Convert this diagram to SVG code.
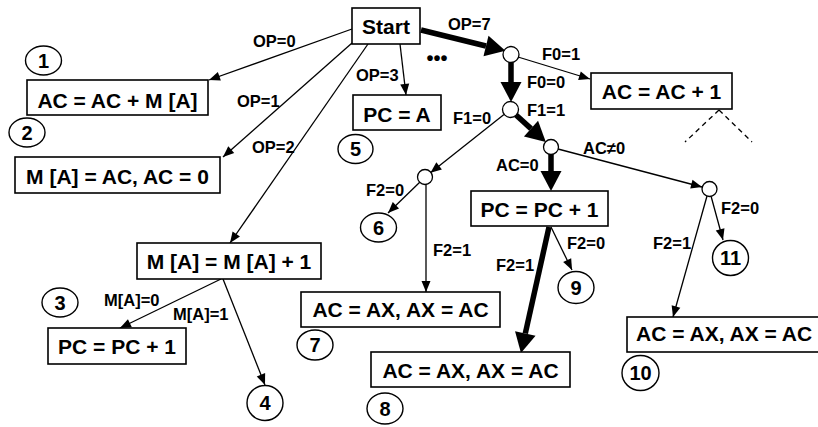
<svg xmlns="http://www.w3.org/2000/svg" width="818" height="427" viewBox="0 0 818 427">
  <defs>
    <style>
      .box { fill: #fff; stroke: #000; stroke-width: 1.6; }
      .num { fill: #fff; stroke: #000; stroke-width: 1.4; }
      .jn { fill: #fff; stroke: #000; stroke-width: 1.3; }
      .t { font-family: "Liberation Sans", Arial, sans-serif; font-weight: bold; font-size: 21px; fill: #000; text-anchor: middle; }
      .n { font-family: "Liberation Sans", Arial, sans-serif; font-weight: bold; font-size: 20px; fill: #000; text-anchor: middle; }
      .lb { font-family: "Liberation Sans", Arial, sans-serif; font-weight: bold; font-size: 16.5px; fill: #000; }
      .thin { fill: none; stroke: #000; stroke-width: 1.3; marker-end: url(#ah); }
      .thick { fill: none; stroke: #000; stroke-width: 5.5; marker-end: url(#ahb); }
      .dash { fill: none; stroke: #000; stroke-width: 1.3; stroke-dasharray: 5 4; }
    </style>
    <!-- small arrowhead, tip at the path end -->
    <marker id="ah" markerUnits="userSpaceOnUse" markerWidth="12" markerHeight="10" refX="11" refY="4.5" orient="auto" overflow="visible">
      <path d="M0,0 L11,4.5 L0,9 Z" fill="#000"/>
    </marker>
    <!-- large arrowhead, base at the path end -->
    <marker id="ahb" markerUnits="userSpaceOnUse" markerWidth="22" markerHeight="22" refX="0" refY="10.5" orient="auto" overflow="visible">
      <path d="M0,0 L20,10.5 L0,21 Z" fill="#000"/>
    </marker>
  </defs>
  <rect width="818" height="427" fill="#fff"/>

  <g id="connectors">
    <!-- from Start -->
    <line class="thin" x1="352" y1="29" x2="209" y2="80"/>
    <line class="thin" x1="352" y1="43" x2="223" y2="157"/>
    <line class="thin" x1="368" y1="44" x2="230" y2="243"/>
    <line class="thin" x1="400" y1="44" x2="406" y2="95"/>
    <line class="thick" x1="421" y1="30" x2="486" y2="46"/>
    <!-- decision chain -->
    <line class="thin" x1="518" y1="57" x2="590" y2="79"/>
    <line class="thick" x1="511" y1="62" x2="511" y2="82"/>
    <line class="thick" x1="516" y1="115" x2="531" y2="128.6"/>
    <line class="thin" x1="504" y1="114.5" x2="430.5" y2="172.7"/>
    <line class="thick" x1="551" y1="154" x2="551" y2="171"/>
    <line class="thin" x1="558" y1="149" x2="702" y2="187"/>
    <line class="thin" x1="420" y1="182" x2="388" y2="213"/>
    <line class="thin" x1="426" y1="184" x2="426" y2="292"/>
    <line class="thick" x1="549" y1="227" x2="525.3" y2="333.5"/>
    <line class="thin" x1="551" y1="227" x2="572" y2="270"/>
    <line class="thin" x1="711" y1="196" x2="723" y2="240"/>
    <line class="thin" x1="707" y1="196" x2="673" y2="317"/>
    <!-- from M [A] = M [A] + 1 -->
    <line class="thin" x1="221" y1="279" x2="120" y2="328"/>
    <line class="thin" x1="223" y1="279" x2="265" y2="385"/>
    <!-- continuation below AC = AC + 1 -->
    <line class="dash" x1="719" y1="110" x2="685" y2="142"/>
    <line class="dash" x1="719" y1="110" x2="752" y2="142"/>

    <text class="lb" x="253" y="47">OP=0</text>
    <text class="lb" x="237" y="107">OP=1</text>
    <text class="lb" x="252" y="153">OP=2</text>
    <text class="lb" x="356" y="81">OP=3</text>
    <text class="lb" x="448" y="30">OP=7</text>
    <text class="lb" x="542" y="60">F0=1</text>
    <text class="lb" x="527" y="88">F0=0</text>
    <text class="lb" x="527" y="116">F1=1</text>
    <text class="lb" x="453" y="124">F1=0</text>
    <text class="lb" x="496" y="171">AC=0</text>
    <text class="lb" x="583" y="154">AC≠0</text>
    <text class="lb" x="366" y="196">F2=0</text>
    <text class="lb" x="433" y="256">F2=1</text>
    <text class="lb" x="496" y="271">F2=1</text>
    <text class="lb" x="567" y="249">F2=0</text>
    <text class="lb" x="721" y="214">F2=0</text>
    <text class="lb" x="653" y="249">F2=1</text>
    <text class="lb" x="104" y="306">M[A]=0</text>
    <text class="lb" x="173" y="320">M[A]=1</text>
    <text class="lb" x="437" y="65" style="text-anchor:middle;font-size:20px">•••</text>
  </g>

  <g id="start">
    <rect class="box" x="352" y="8" width="68" height="36"/>
    <text class="t" x="386" y="34">Start</text>
  </g>
  <g id="j1"><circle class="jn" cx="511" cy="54.5" r="8"/></g>
  <g id="j2"><circle class="jn" cx="510.5" cy="109.5" r="8"/></g>
  <g id="j3"><circle class="jn" cx="551" cy="147" r="7.5"/></g>
  <g id="j4"><circle class="jn" cx="425" cy="177" r="7.5"/></g>
  <g id="j5"><circle class="jn" cx="709.5" cy="189" r="7.5"/></g>

  <g id="op0">
    <rect class="box" x="27" y="80" width="181" height="35"/>
    <text class="t" x="117.5" y="108">AC = AC + M [A]</text>
  </g>
  <g id="op1">
    <rect class="box" x="15" y="157" width="205" height="36"/>
    <text class="t" x="117.5" y="184">M [A] = AC, AC = 0</text>
  </g>
  <g id="op2">
    <rect class="box" x="137" y="243" width="184" height="36"/>
    <text class="t" x="229" y="269">M [A] = M [A] + 1</text>
  </g>
  <g id="skip">
    <rect class="box" x="48" y="328" width="138" height="36"/>
    <text class="t" x="117" y="354">PC = PC + 1</text>
  </g>
  <g id="op3">
    <rect class="box" x="353" y="95" width="88" height="35"/>
    <text class="t" x="397" y="122">PC = A</text>
  </g>
  <g id="inc">
    <rect class="box" x="591" y="73" width="141" height="36"/>
    <text class="t" x="661.5" y="99">AC = AC + 1</text>
  </g>
  <g id="skz">
    <rect class="box" x="471" y="191" width="137" height="35"/>
    <text class="t" x="539.5" y="217">PC = PC + 1</text>
  </g>
  <g id="swap7">
    <rect class="box" x="301" y="292" width="199" height="35"/>
    <text class="t" x="400.5" y="317">AC = AX, AX = AC</text>
  </g>
  <g id="swap8">
    <rect class="box" x="371" y="352" width="199" height="35"/>
    <text class="t" x="470.5" y="378">AC = AX, AX = AC</text>
  </g>
  <g id="swap10">
    <rect class="box" x="627" y="317" width="205" height="35"/>
    <text class="t" x="636" y="341" style="text-anchor:start">AC = AX, AX = AC</text>
  </g>

  <g id="c1"><ellipse class="num" cx="43.5" cy="60.5" rx="18" ry="14.5"/><text class="n" x="43.5" y="67.5">1</text></g>
  <g id="c2"><ellipse class="num" cx="27" cy="132.5" rx="18" ry="14.5"/><text class="n" x="27" y="139.5">2</text></g>
  <g id="c3"><ellipse class="num" cx="60" cy="302.5" rx="18" ry="14.5"/><text class="n" x="60" y="309.5">3</text></g>
  <g id="c4"><ellipse class="num" cx="265" cy="403" rx="18" ry="17.5"/><text class="n" x="265" y="410">4</text></g>
  <g id="c5"><ellipse class="num" cx="355.5" cy="149" rx="17.5" ry="14.5"/><text class="n" x="355.5" y="156">5</text></g>
  <g id="c6"><ellipse class="num" cx="378.5" cy="227.5" rx="18" ry="14.5"/><text class="n" x="378.5" y="234.5">6</text></g>
  <g id="c7"><ellipse class="num" cx="315" cy="345" rx="18" ry="15"/><text class="n" x="315" y="352">7</text></g>
  <g id="c8"><ellipse class="num" cx="385" cy="408.5" rx="18" ry="15.5"/><text class="n" x="385" y="415.5">8</text></g>
  <g id="c9"><ellipse class="num" cx="576" cy="287.5" rx="18" ry="16"/><text class="n" x="576" y="294.5">9</text></g>
  <g id="c10"><ellipse class="num" cx="640.5" cy="373" rx="18.5" ry="17.5"/><text class="n" x="640.5" y="380">10</text></g>
  <g id="c11"><ellipse class="num" cx="730.5" cy="258" rx="18" ry="17.5"/><text class="n" x="730.5" y="265">11</text></g>
</svg>
